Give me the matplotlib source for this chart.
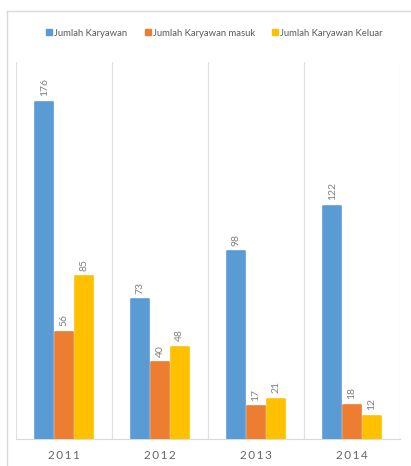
import matplotlib.pyplot as plt
import numpy as np
from matplotlib.lines import Line2D

years = ['2011', '2012', '2013', '2014']
series = ['Jumlah Karyawan', 'Jumlah Karyawan masuk', 'Jumlah Karyawan Keluar']
karyawan = [176, 73, 98, 122]
masuk = [56, 40, 17, 18]
keluar = [85, 48, 21, 12]
colors = ['#5B9BD5', '#ED7D31', '#FFC000']

plt.rcParams['font.family'] = ['Lato', 'DejaVu Sans']
grey = '#808080'

fig = plt.figure(figsize=(4.11, 4.66), dpi=100)
ax = fig.add_axes([16 / 411, 27 / 466, 384 / 411, 377 / 466])

x = np.arange(len(years))
w = 0.185
for i, (vals, c) in enumerate(zip([karyawan, masuk, keluar], colors)):
    pos = x + (i - 1) * 0.205
    ax.bar(pos, vals, w, color=c, edgecolor=c, linewidth=1.2,
           joinstyle='round', zorder=3)
    for p, v in zip(pos, vals):
        ax.text(p, v + 3, str(v), rotation=90, ha='center', va='bottom',
                fontsize=7.5, color=grey)

ax.set_xlim(-0.5, 3.5)
ax.set_ylim(0, 197)
ax.set_yticks([])
ax.set_xticks(x)
ax.set_xticklabels(['\u2009'.join(y) for y in years], fontsize=8.5, color='#666666')
ax.tick_params(axis='x', length=0, pad=8)
for b in np.arange(-0.5, 4.0, 1.0):
    ax.axvline(b, color='#e0e0e0', lw=0.9, zorder=1)
for s in ['top', 'left', 'right']:
    ax.spines[s].set_visible(False)
ax.spines['bottom'].set_color('#d9d9d9')

# legend
handles = [Line2D([], [], marker='s', ls='', color=c, markersize=5) for c in colors]
fig.legend(handles, series, loc='center', bbox_to_anchor=(214 / 411, 1 - 33 / 466),
           ncol=3, frameon=False, fontsize=6.8, labelcolor='#595959',
           handletextpad=0.1, columnspacing=1.8, handlelength=0.8)

# outer frame
fig.add_artist(Line2D([7 / 411, 1], [1 - 11 / 466, 1 - 11 / 466],
                      color='#d9d9d9', lw=1, transform=fig.transFigure))
fig.add_artist(Line2D([7 / 411, 7 / 411], [0, 1 - 11 / 466],
                      color='#d9d9d9', lw=1, transform=fig.transFigure))

plt.savefig('out.png', dpi=100)
